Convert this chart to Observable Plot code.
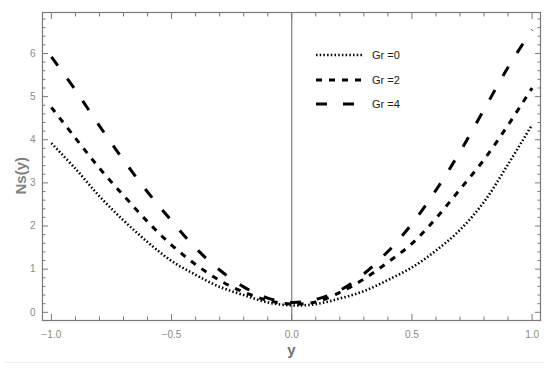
<!DOCTYPE html>
<html>
<head>
<meta charset="utf-8">
<script src="https://cdn.jsdelivr.net/npm/d3@7"></script>
<script src="https://cdn.jsdelivr.net/npm/@observablehq/plot@0.6"></script>
<style>
  html, body { margin: 0; padding: 0; background: #fff; }
  #wrap { position: relative; width: 550px; height: 375px; font-family: "Liberation Sans", Arial, sans-serif; }
  #legend { position: absolute; left: 314px; top: 43px; font-size: 11px; color: #222; }
  #legend .row { display: flex; align-items: center; height: 24.5px; }
  #legend svg { margin-right: 8px; }
  #rule { position: absolute; left: 5px; top: 362px; width: 540px; border-top: 1px solid #ececec; }
</style>
</head>
<body>
<div id="wrap">
  <div id="chart"></div>
  <div id="legend"></div>
  <div id="rule"></div>
</div>
<script>
// Data
const yPos = [-1.0,-0.9,-0.8,-0.7,-0.6,-0.5,-0.4,-0.3,-0.2,-0.1,0.0,0.1,0.2,0.3,0.4,0.5,0.6,0.7,0.8,0.9,1.0];
const gr0 = [3.92,3.33,2.69,2.13,1.63,1.19,0.87,0.59,0.40,0.23,0.16,0.19,0.32,0.49,0.75,1.04,1.43,1.91,2.56,3.43,4.35];
const gr2 = [4.75,4.04,3.34,2.71,2.10,1.56,1.11,0.74,0.47,0.28,0.19,0.24,0.46,0.77,1.16,1.59,2.18,2.85,3.54,4.34,5.20];
const gr4 = [5.92,5.15,4.32,3.53,2.79,2.12,1.49,0.98,0.59,0.33,0.23,0.30,0.51,0.89,1.41,2.05,2.83,3.72,4.70,5.68,6.55];
const seriesNames = ["Gr =0", "Gr =2", "Gr =4"];
const xMajor = [-1, -0.5, 0, 0.5, 1];
const xMinor = [-0.9,-0.8,-0.7,-0.6,-0.4,-0.3,-0.2,-0.1,0.1,0.2,0.3,0.4,0.6,0.7,0.8,0.9];
const yMajor = [0, 1, 2, 3, 4, 5, 6];
const yMinor = [0.2,0.4,0.6,0.8,1.2,1.4,1.6,1.8,2.2,2.4,2.6,2.8,3.2,3.4,3.6,3.8,4.2,4.4,4.6,4.8,5.2,5.4,5.6,5.8,6.2,6.4,6.6,6.8];

const styles = {
  "Gr =0": {dash: "1.5,2.2", width: 2.6},
  "Gr =2": {dash: "6,7", width: 3},
  "Gr =4": {dash: "11,16", width: 3}
};

const seriesVals = [gr0, gr2, gr4];
const rows = [];
seriesNames.forEach((name, i) => yPos.forEach((x, j) => rows.push({series: name, x, v: seriesVals[i][j]})));

const frameColor = "#7a7a7a";
const labelColor = "#8a8a8a";
const fmtX = d => d.toFixed(1).replace("-", "\u2212");

const chart = Plot.plot({
  width: 550,
  height: 362,
  marginLeft: 42,
  marginRight: 10,
  marginTop: 12,
  marginBottom: 42,
  style: {fontFamily: "Liberation Sans, Arial, sans-serif", background: "#fff"},
  x: {domain: [-1.037, 1.035]},
  y: {domain: [-0.19, 6.95]},
  marks: [
    Plot.frame({stroke: frameColor, strokeWidth: 1.2}),
    Plot.ruleX([0], {stroke: "#888", strokeWidth: 1.3}),
    // bottom axis
    Plot.axisX(xMajor, {anchor: "bottom", label: null, tickSize: -6, tickPadding: 16, tickFormat: fmtX, fontSize: 10, color: labelColor, stroke: frameColor}),
    Plot.axisX(xMinor, {anchor: "bottom", label: null, tickSize: -3.5, tickFormat: () => "", stroke: frameColor}),
    // top axis
    Plot.axisX(xMajor, {anchor: "top", label: null, tickSize: -6, tickFormat: () => "", stroke: frameColor}),
    Plot.axisX(xMinor, {anchor: "top", label: null, tickSize: -3.5, tickFormat: () => "", stroke: frameColor}),
    // left axis
    Plot.axisY(yMajor, {anchor: "left", label: null, tickSize: -6, tickPadding: 13, tickFormat: d => String(d), fontSize: 10, color: labelColor, stroke: frameColor}),
    Plot.axisY(yMinor, {anchor: "left", label: null, tickSize: -3.5, tickFormat: () => "", stroke: frameColor}),
    // right axis
    Plot.axisY(yMajor, {anchor: "right", label: null, tickSize: -6, tickFormat: () => "", stroke: frameColor}),
    Plot.axisY(yMinor, {anchor: "right", label: null, tickSize: -3.5, tickFormat: () => "", stroke: frameColor}),
    // axis titles
    Plot.text(["Ns(y)"], {frameAnchor: "left", dx: -21, dy: 28, rotate: -90, fontSize: 15, fill: "#808080", fontWeight: "bold"}),
    Plot.text(["y"], {frameAnchor: "bottom", dy: 34, fontSize: 15, fill: "#707070", fontWeight: "bold"}),
    // curves
    ...seriesNames.map(name => Plot.line(rows.filter(d => d.series === name), {
      x: "x", y: "v", curve: "catmull-rom", stroke: "black",
      strokeWidth: styles[name].width, strokeDasharray: styles[name].dash, strokeLinecap: "butt"
    }))
  ]
});
document.getElementById("chart").appendChild(chart);

// Legend
const legend = document.getElementById("legend");
seriesNames.forEach(name => {
  const row = document.createElement("div");
  row.className = "row";
  const s = styles[name];
  row.innerHTML = `<svg width="50" height="8"><line x1="2" y1="4" x2="50" y2="4" stroke="black" stroke-width="${s.width}" stroke-dasharray="${s.dash}"/></svg><span>${name}</span>`;
  legend.appendChild(row);
});
</script>
</body>
</html>
